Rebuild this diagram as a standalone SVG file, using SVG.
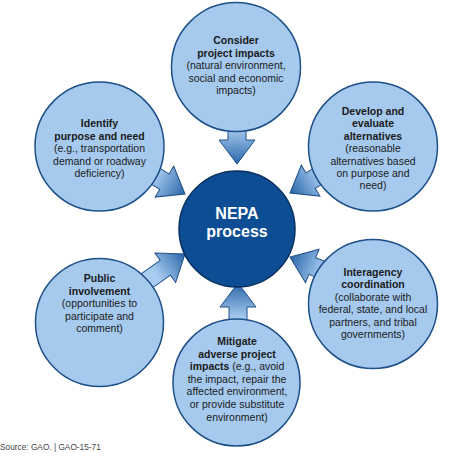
<svg xmlns="http://www.w3.org/2000/svg" xmlns:xlink="http://www.w3.org/1999/xlink" width="474" height="458" viewBox="0 0 474 458">
<style>
.node{fill:#a6caee;stroke:#1d4f88;stroke-width:1.5}
.core{fill:#0c4d94;stroke:#072f5f;stroke-width:1.5}
.t{font-family:"Liberation Sans",Arial,sans-serif;font-size:10.5px;fill:#1a1a1a;text-anchor:middle}
.b{font-weight:bold}
.ct{font-family:"Liberation Sans",Arial,sans-serif;font-size:16px;font-weight:bold;fill:#ffffff;text-anchor:middle}
.src{font-family:"Liberation Sans",Arial,sans-serif;font-size:8.3px;fill:#444444}
.arr{fill:url(#ag);stroke:#1f4f86;stroke-width:1}
</style>
<defs>
<linearGradient id="ag" gradientUnits="userSpaceOnUse" x1="-36" y1="0" x2="0" y2="0">
<stop offset="0" stop-color="#a9cdf2"/>
<stop offset="1" stop-color="#2a66a8"/>
</linearGradient>
<path id="arrow" class="arr" d="M-50,-9 L-24,-9 L-24,-18 L0,0 L-24,18 L-24,9 L-50,9 Z"/>
</defs>

<g id="connectors">
<use xlink:href="#arrow" transform="translate(237,164) rotate(90)"/>
<use xlink:href="#arrow" transform="translate(238,283) rotate(-90)"/>
<use xlink:href="#arrow" transform="translate(185,194) rotate(31)"/>
<use xlink:href="#arrow" transform="translate(290,193) rotate(149)"/>
<use xlink:href="#arrow" transform="translate(185,254) rotate(-35)"/>
<use xlink:href="#arrow" transform="translate(290,257) rotate(202)"/>
</g>

<g id="nepa">
<circle class="core" cx="237" cy="229" r="58"/>
<text class="ct" x="237" y="219">NEPA</text>
<text class="ct" x="237" y="237">process</text>
</g>

<g id="consider">
<circle class="node" cx="236" cy="67" r="64.5"/>
<text class="t b" x="236" y="44">Consider</text>
<text class="t b" x="236" y="56.5">project impacts</text>
<text class="t" x="236" y="69">(natural environment,</text>
<text class="t" x="236" y="81.5">social and economic</text>
<text class="t" x="236" y="94">impacts)</text>
</g>

<g id="identify">
<circle class="node" cx="99.5" cy="146.5" r="64.5"/>
<text class="t b" x="99.5" y="127">Identify</text>
<text class="t b" x="99.5" y="139.5">purpose and need</text>
<text class="t" x="99.5" y="152">(e.g., transportation</text>
<text class="t" x="99.5" y="164.5">demand or roadway</text>
<text class="t" x="99.5" y="177">deficiency)</text>
</g>

<g id="develop">
<circle class="node" cx="373" cy="146.5" r="64.5"/>
<text class="t b" x="373" y="115">Develop and</text>
<text class="t b" x="373" y="127.4">evaluate</text>
<text class="t b" x="373" y="139.8">alternatives</text>
<text class="t" x="373" y="152.2">(reasonable</text>
<text class="t" x="373" y="164.6">alternatives based</text>
<text class="t" x="373" y="177">on purpose and</text>
<text class="t" x="373" y="189.4">need)</text>
</g>

<g id="public">
<circle class="node" cx="99.5" cy="322.5" r="64"/>
<text class="t b" x="99.5" y="282">Public</text>
<text class="t b" x="99.5" y="294.5">involvement</text>
<text class="t" x="99.5" y="307">(opportunities to</text>
<text class="t" x="99.5" y="319.5">participate and</text>
<text class="t" x="99.5" y="332">comment)</text>
</g>

<g id="interagency">
<circle class="node" cx="373" cy="304" r="64.5"/>
<text class="t b" x="373" y="276">Interagency</text>
<text class="t b" x="373" y="288.4">coordination</text>
<text class="t" x="373" y="300.8">(collaborate with</text>
<text class="t" x="373" y="313.2">federal, state, and local</text>
<text class="t" x="373" y="325.6">partners, and tribal</text>
<text class="t" x="373" y="338">governments)</text>
</g>

<g id="mitigate">
<circle class="node" cx="236.5" cy="382.5" r="63.5"/>
<text class="t b" x="237" y="345">Mitigate</text>
<text class="t b" x="237" y="357.6">adverse project</text>
<text class="t" x="237" y="370.2"><tspan class="b">impacts</tspan> (e.g., avoid</text>
<text class="t" x="237" y="382.8">the impact, repair the</text>
<text class="t" x="237" y="395.4">affected environment,</text>
<text class="t" x="237" y="408">or provide substitute</text>
<text class="t" x="237" y="420.6">environment)</text>
</g>

<text class="src" x="0" y="450">Source: GAO. | GAO-15-71</text>
</svg>
